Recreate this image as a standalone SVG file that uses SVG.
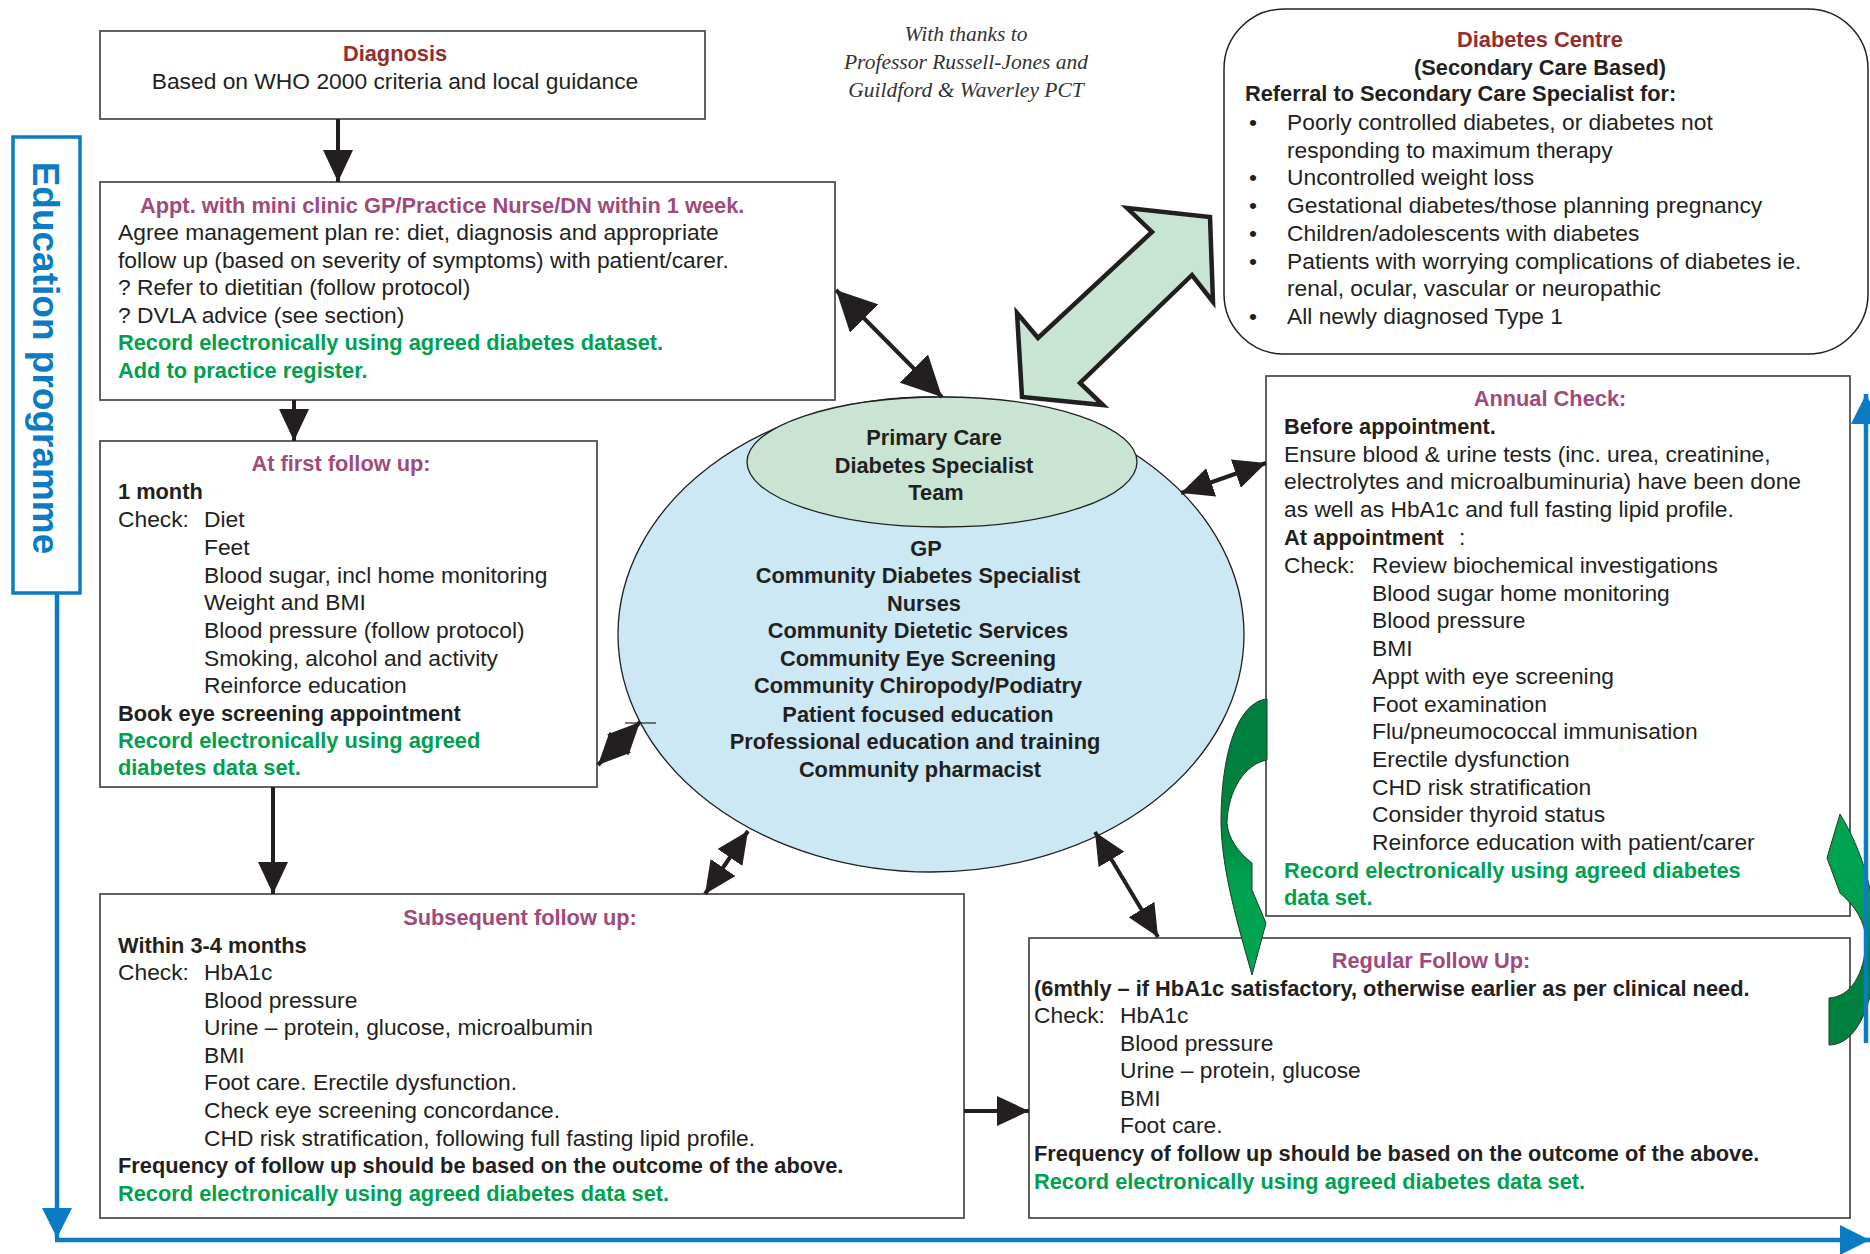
<svg xmlns="http://www.w3.org/2000/svg" width="1870" height="1254" viewBox="0 0 1870 1254">
<style>
.r{font-family:"Liberation Sans",Arial,sans-serif;font-size:22.8px;fill:#231f20}
.b{font-family:"Liberation Sans",Arial,sans-serif;font-size:21.8px;font-weight:bold;fill:#231f20}
.t{font-family:"Liberation Sans",Arial,sans-serif;font-size:21.8px;font-weight:bold;fill:#a04a7b}
.red{font-family:"Liberation Sans",Arial,sans-serif;font-size:21.8px;font-weight:bold;fill:#962d2a}
.g{font-family:"Liberation Sans",Arial,sans-serif;font-size:21.8px;font-weight:bold;fill:#00a04e}
.it{font-family:"Liberation Serif","Times New Roman",serif;font-style:italic;font-size:21.5px;fill:#333}
.c{text-anchor:middle}
.box{fill:#fff;stroke:#505050;stroke-width:1.8}
.conn{stroke:#231f20;stroke-width:4;fill:none}
.blue{stroke:#0b7bc4;stroke-width:4.5;fill:none}
.edu{font-family:"Liberation Sans",Arial,sans-serif;font-size:37px;font-weight:bold;fill:#0b7bc4}
</style>
<defs>
<marker id="ah" viewBox="0 0 32 30" markerWidth="32" markerHeight="30" refX="32" refY="15" orient="auto-start-reverse" markerUnits="userSpaceOnUse"><path d="M0,0 L32,15 L0,30 Z" fill="#231f20"/></marker>
<marker id="ahL" viewBox="0 0 40 40" markerWidth="40" markerHeight="40" refX="40" refY="20" orient="auto-start-reverse" markerUnits="userSpaceOnUse"><path d="M0,0 L40,20 L0,40 Z" fill="#231f20"/></marker>
<marker id="bah" viewBox="0 0 30 30" markerWidth="30" markerHeight="30" refX="30" refY="15" orient="auto" markerUnits="userSpaceOnUse"><path d="M0,0 L30,15 L0,30 Z" fill="#0b7bc4"/></marker>
<linearGradient id="gl" x1="0" y1="0" x2="0" y2="1"><stop offset="0" stop-color="#007f3e"/><stop offset="0.45" stop-color="#00843f"/><stop offset="0.65" stop-color="#00a04e"/><stop offset="1" stop-color="#00a651"/></linearGradient>
<linearGradient id="gr" x1="0" y1="0" x2="0" y2="1"><stop offset="0" stop-color="#00a651"/><stop offset="0.4" stop-color="#00a04e"/><stop offset="0.6" stop-color="#00843f"/><stop offset="1" stop-color="#007f3e"/></linearGradient>
</defs>
<rect width="1870" height="1254" fill="#fff"/>

<g id="thanks">
<text class="it c" x="966" y="41">With thanks to</text>
<text class="it c" x="966" y="69">Professor Russell-Jones and</text>
<text class="it c" x="966" y="97">Guildford &amp; Waverley PCT</text>
</g>

<g id="education">
<rect x="13" y="137" width="67" height="456" fill="#fff" stroke="#0b7bc4" stroke-width="3.5"/>
<text class="edu c" transform="translate(33,358) rotate(90)">Education programme</text>
</g>

<g id="diagnosis">
<rect class="box" x="100" y="31" width="605" height="88"/>
<text class="red c" x="395" y="61">Diagnosis</text>
<text class="r c" x="395" y="89">Based on WHO 2000 criteria and local guidance</text>
</g>

<g id="appt">
<rect class="box" x="100" y="182" width="735" height="218"/>
<text class="t" x="140" y="213">Appt. with mini clinic GP/Practice Nurse/DN within 1 week.</text>
<text class="r" x="118" y="240">Agree management plan re: diet, diagnosis and appropriate</text>
<text class="r" x="118" y="267.5">follow up (based on severity of symptoms) with patient/carer.</text>
<text class="r" x="118" y="295">? Refer to dietitian (follow protocol)</text>
<text class="r" x="118" y="322.5">? DVLA advice (see section)</text>
<text class="g" x="118" y="350">Record electronically using agreed diabetes dataset.</text>
<text class="g" x="118" y="377.5">Add to practice register.</text>
</g>

<g id="first-follow-up">
<rect class="box" x="100" y="441" width="497" height="346"/>
<text class="t c" x="341" y="471">At first follow up:</text>
<text class="b" x="118" y="499">1 month</text>
<text class="r" x="118" y="527">Check:</text>
<text class="r" x="204" y="527">Diet</text>
<text class="r" x="204" y="555">Feet</text>
<text class="r" x="204" y="582.5">Blood sugar, incl home monitoring</text>
<text class="r" x="204" y="610">Weight and BMI</text>
<text class="r" x="204" y="638">Blood pressure (follow protocol)</text>
<text class="r" x="204" y="666">Smoking, alcohol and activity</text>
<text class="r" x="204" y="693">Reinforce education</text>
<text class="b" x="118" y="720.5">Book eye screening appointment</text>
<text class="g" x="118" y="748">Record electronically using agreed</text>
<text class="g" x="118" y="775">diabetes data set.</text>
</g>

<g id="subsequent">
<rect class="box" x="100" y="894" width="864" height="324"/>
<text class="t c" x="520" y="925">Subsequent follow up:</text>
<text class="b" x="118" y="953">Within 3-4 months</text>
<text class="r" x="118" y="980">Check:</text>
<text class="r" x="204" y="980">HbA1c</text>
<text class="r" x="204" y="1008">Blood pressure</text>
<text class="r" x="204" y="1035">Urine – protein, glucose, microalbumin</text>
<text class="r" x="204" y="1063">BMI</text>
<text class="r" x="204" y="1090">Foot care. Erectile dysfunction.</text>
<text class="r" x="204" y="1118">Check eye screening concordance.</text>
<text class="r" x="204" y="1146">CHD risk stratification, following full fasting lipid profile.</text>
<text class="b" x="118" y="1173">Frequency of follow up should be based on the outcome of the above.</text>
<text class="g" x="118" y="1201">Record electronically using agreed diabetes data set.</text>
</g>

<g id="team">
<ellipse cx="931" cy="634.5" rx="313" ry="237.5" fill="#cbe8f4" stroke="#231f20" stroke-width="1.3"/>
<ellipse cx="942" cy="462" rx="195" ry="65" fill="#c9e4d3" stroke="#231f20" stroke-width="1.3"/>
<text class="b c" x="934" y="445">Primary Care</text>
<text class="b c" x="934" y="473">Diabetes Specialist</text>
<text class="b c" x="936" y="500">Team</text>
<text class="b c" x="926" y="556">GP</text>
<text class="b c" x="918" y="583">Community Diabetes Specialist</text>
<text class="b c" x="924" y="611">Nurses</text>
<text class="b c" x="918" y="638">Community Dietetic Services</text>
<text class="b c" x="918" y="666">Community Eye Screening</text>
<text class="b c" x="918" y="693">Community Chiropody/Podiatry</text>
<text class="b c" x="918" y="721.5">Patient focused education</text>
<text class="b c" x="915" y="749">Professional education and training</text>
<text class="b c" x="920" y="777">Community pharmacist</text>
</g>

<g id="diabetes-centre">
<rect x="1224" y="9" width="644" height="345" rx="60" ry="60" fill="#fff" stroke="#231f20" stroke-width="1.5"/>
<text class="red c" x="1540" y="47">Diabetes Centre</text>
<text class="b c" x="1540" y="75">(Secondary Care Based)</text>
<text class="b" x="1245" y="101">Referral to Secondary Care Specialist for:</text>
<text class="r" x="1249" y="130">•</text>
<text class="r" x="1287" y="130">Poorly controlled diabetes, or diabetes not</text>
<text class="r" x="1287" y="157.5">responding to maximum therapy</text>
<text class="r" x="1249" y="185">•</text>
<text class="r" x="1287" y="185">Uncontrolled weight loss</text>
<text class="r" x="1249" y="213">•</text>
<text class="r" x="1287" y="213">Gestational diabetes/those planning pregnancy</text>
<text class="r" x="1249" y="241">•</text>
<text class="r" x="1287" y="241">Children/adolescents with diabetes</text>
<text class="r" x="1249" y="268.5">•</text>
<text class="r" x="1287" y="268.5">Patients with worrying complications of diabetes ie.</text>
<text class="r" x="1287" y="296">renal, ocular, vascular or neuropathic</text>
<text class="r" x="1249" y="323.5">•</text>
<text class="r" x="1287" y="323.5">All newly diagnosed Type 1</text>
</g>

<g id="annual">
<rect class="box" x="1266" y="376" width="584" height="540"/>
<text class="t c" x="1550" y="406">Annual Check:</text>
<text class="b" x="1284" y="433.5">Before appointment.</text>
<text class="r" x="1284" y="461.5">Ensure blood &amp; urine tests (inc. urea, creatinine,</text>
<text class="r" x="1284" y="489">electrolytes and microalbuminuria) have been done</text>
<text class="r" x="1284" y="517">as well as HbA1c and full fasting lipid profile.</text>
<text class="b" x="1284" y="544.5">At appointment</text>
<text class="r" x="1459" y="544.5">:</text>
<text class="r" x="1284" y="572.5">Check:</text>
<text class="r" x="1372" y="572.5">Review biochemical investigations</text>
<text class="r" x="1372" y="600.5">Blood sugar home monitoring</text>
<text class="r" x="1372" y="628">Blood pressure</text>
<text class="r" x="1372" y="656">BMI</text>
<text class="r" x="1372" y="684">Appt with eye screening</text>
<text class="r" x="1372" y="711.5">Foot examination</text>
<text class="r" x="1372" y="739">Flu/pneumococcal immunisation</text>
<text class="r" x="1372" y="767">Erectile dysfunction</text>
<text class="r" x="1372" y="795">CHD risk stratification</text>
<text class="r" x="1372" y="822">Consider thyroid status</text>
<text class="r" x="1372" y="850">Reinforce education with patient/carer</text>
<text class="g" x="1284" y="878">Record electronically using agreed diabetes</text>
<text class="g" x="1284" y="905">data set.</text>
</g>

<g id="regular">
<rect class="box" x="1029" y="938" width="821" height="280"/>
<text class="t c" x="1431" y="968">Regular Follow Up:</text>
<text class="b" x="1034" y="996">(6mthly – if HbA1c satisfactory, otherwise earlier as per clinical need.</text>
<text class="r" x="1034" y="1023">Check:</text>
<text class="r" x="1120" y="1023">HbA1c</text>
<text class="r" x="1120" y="1051">Blood pressure</text>
<text class="r" x="1120" y="1078">Urine – protein, glucose</text>
<text class="r" x="1120" y="1106">BMI</text>
<text class="r" x="1120" y="1133">Foot care.</text>
<text class="b" x="1034" y="1161">Frequency of follow up should be based on the outcome of the above.</text>
<text class="g" x="1034" y="1189">Record electronically using agreed diabetes data set.</text>
</g>

<g id="connectors">
<line class="conn" x1="338" y1="119" x2="338" y2="182" marker-end="url(#ah)"/>
<line class="conn" x1="294" y1="400" x2="294" y2="441" marker-end="url(#ah)"/>
<line class="conn" x1="273" y1="787" x2="273" y2="894" marker-end="url(#ah)"/>
<line class="conn" x1="964" y1="1111" x2="1029" y2="1111" marker-end="url(#ah)"/>
<line class="conn" x1="836" y1="290" x2="942" y2="397" marker-start="url(#ahL)" marker-end="url(#ahL)"/>
<line class="conn" x1="598" y1="765" x2="640" y2="722" marker-start="url(#ah)" marker-end="url(#ah)"/>
<line x1="625" y1="723" x2="656" y2="723" stroke="#231f20" stroke-width="1.2"/>
<line class="conn" x1="705" y1="894" x2="748" y2="831" marker-start="url(#ah)" marker-end="url(#ah)"/>
<line class="conn" x1="1158" y1="937" x2="1095" y2="832" marker-start="url(#ah)" marker-end="url(#ah)"/>
<line class="conn" x1="1181" y1="493" x2="1266" y2="463" marker-start="url(#ah)" marker-end="url(#ah)"/>
<polygon points="1127,208 1210,217 1213,302 1192,275 1080,383 1103,405 1022,397 1017,313 1038,338 1152,232" fill="#c8e5d3" stroke="#231f20" stroke-width="4.5" stroke-linejoin="miter"/>
<path d="M1267,699 C1238,702 1221,752 1221,823 C1222,872 1238,925 1252,975 L1266,923 L1252,890 L1252,863 C1238,852 1228,838 1227,823 C1228,790 1245,764 1267,760 Z" fill="url(#gl)" stroke="#1e3a2a" stroke-width="1"/>
<path d="M1829,1045 C1858,1045 1876,1000 1876,945 C1876,895 1862,850 1840,814 L1827,858 L1840,893 C1855,906 1865,921 1866,940 C1865,975 1850,997 1829,998 Z" fill="url(#gr)" stroke="#1e3a2a" stroke-width="1"/>
<line class="blue" x1="57" y1="593" x2="57" y2="1238" marker-end="url(#bah)"/>
<line class="blue" x1="55" y1="1240" x2="1870" y2="1240" marker-end="url(#bah)"/>
<line class="blue" x1="1866" y1="1043" x2="1866" y2="394" marker-end="url(#bah)"/>
</g>
</svg>
